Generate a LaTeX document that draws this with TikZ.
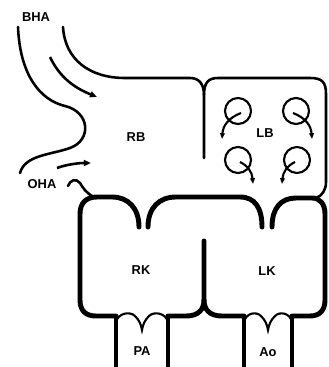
\documentclass[tikz,border=0pt]{standalone}
\usepackage{fontspec}
\setmainfont{Liberation Sans}
\usepackage{tikz}
\usetikzlibrary{arrows.meta}

\tikzset{
  thinwall/.style = {line width=2.2pt, line cap=round, black},
  thickwall/.style = {line width=4.2pt, line cap=round, black},
  vesselwall/.style = {line width=2.6pt, black},
  flap/.style = {line width=1.8pt, black},
  flow/.style = {line width=2.2pt, -{Triangle[length=6pt,width=5pt]}},
  swirl/.style = {line width=1.8pt, -{Triangle[length=5pt,width=4pt]}},
  chamber/.style = {font=\bfseries\fontsize{11}{13}\selectfont, inner sep=0pt}
}

\begin{document}
\begin{tikzpicture}[x=0.03cm, y=-0.03cm]
\useasboundingbox (0,0) rectangle (328,367);

% -- inflow: BHA and OHA
\draw[thinwall] (18,27) .. controls (20,75) and (40,100) .. (65,106)
   .. controls (90,112) and (92,140) .. (70,148)
   .. controls (50,155) and (25,155) .. (20,173);
\draw[thinwall] (63,27) .. controls (65,60) and (90,78) .. (125,78) -- (190,78)
   .. controls (199,78) and (204,84) .. (204,95);
\draw[flow] (50,57) .. controls (60,78) and (75,88) .. (97,97);
\draw[flow] (57,168) .. controls (68,164) and (80,163) .. (91,163);
\draw[thinwall] (68,186) .. controls (70,180) and (76,178) .. (80,183)
   .. controls (83,188) and (86,193) .. (94,197);

% -- septum and LB outline
\draw[thinwall] (204,158) -- (204,95) .. controls (204,83) and (208,78) .. (218,78)
   -- (310,78) .. controls (322,78) and (326,82) .. (326,94) -- (326,182)
   .. controls (326,190) and (322,196) .. (316,198);

% -- swirls in LB
\draw[line width=1.8pt] (238,111) circle (13);
\draw[line width=1.8pt] (296,111) circle (13);
\draw[line width=1.8pt] (238,160) circle (13);
\draw[line width=1.8pt] (297,160) circle (13);
\draw[swirl] (241,113) .. controls (228,118) and (223,126) .. (222,139);
\draw[swirl] (293,113) .. controls (306,118) and (311,126) .. (312,139);
\draw[swirl] (240,162) .. controls (248,166) and (252,172) .. (253,184);
\draw[swirl] (295,162) .. controls (287,166) and (283,172) .. (282,184);

% -- RK outline
\draw[thickwall] (139,227) .. controls (139,208) and (128,197) .. (112,197) -- (97,197)
   .. controls (86,197) and (80,203) .. (80,214) -- (80,300)
   .. controls (80,311) and (86,316) .. (96,316) -- (116,316);

% -- LK outline
\draw[thickwall] (148,227) .. controls (148,208) and (159,197) .. (176,197) -- (240,197)
   .. controls (255,197) and (262,208) .. (262,227);
\draw[thickwall] (272,227) .. controls (272,208) and (281,198) .. (296,198) -- (312,198)
   .. controls (320,198) and (325,204) .. (325,214) -- (325,300)
   .. controls (325,310) and (320,316) .. (310,316) -- (292,316);
\draw[thickwall] (168,316) -- (186,316) .. controls (198,316) and (204,310) .. (204,300)
   -- (204,241);
\draw[thickwall] (204,300) .. controls (204,310) and (210,316) .. (222,316) -- (244,316);

% -- PA and Ao with valves
\foreach \l/\r in {116/168, 244/292} {
  \draw[vesselwall] (\l,316) -- (\l,367);
  \draw[vesselwall] (\r,316) -- (\r,367);
  \pgfmathsetmacro\m{(\l+\r)/2}
  \draw[flap] (\l,322) .. controls (\l+2,313) and (\m-12,311) .. (\m-7,316)
     .. controls (\m-3,320) and (\m-1,324) .. (\m,330)
     .. controls (\m+1,324) and (\m+3,320) .. (\m+7,316)
     .. controls (\m+12,311) and (\r-2,313) .. (\r,322);
}

% -- labels
\node[chamber] (bha) at (36,17) {BHA};
\node[chamber] (oha) at (42,184) {OHA};
\node[chamber] (rb) at (136,137) {RB};
\node[chamber] (lb) at (265,133) {LB};
\node[chamber] (rk) at (141,270) {RK};
\node[chamber] (lk) at (267,271) {LK};
\node[chamber] (pa) at (142,351) {PA};
\node[chamber] (ao) at (268,352) {Ao};

\end{tikzpicture}
\end{document}
